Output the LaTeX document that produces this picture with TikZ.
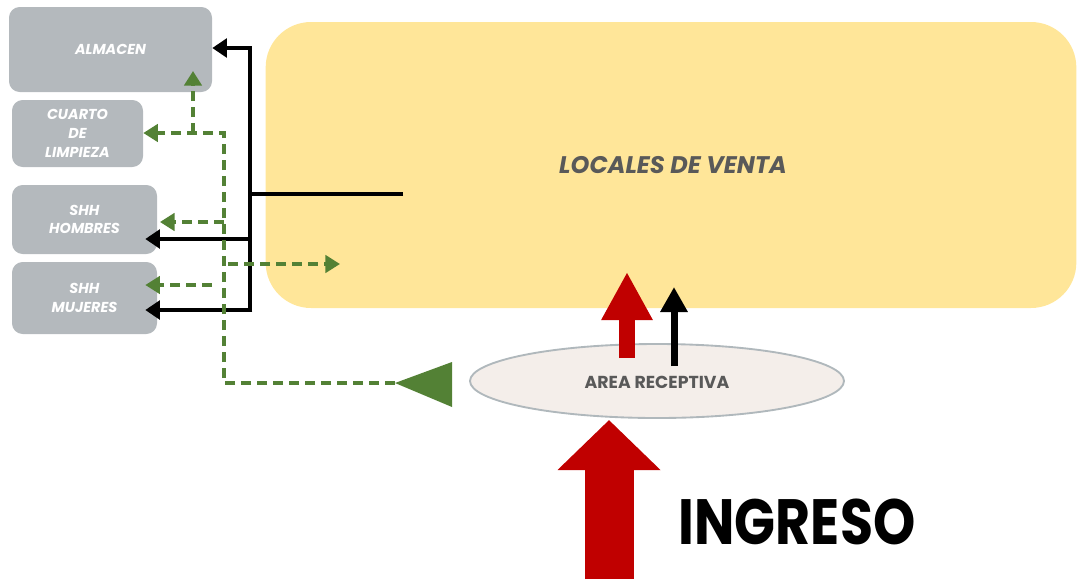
\documentclass[tikz,border=0pt]{standalone}
\usepackage{fontspec}
\setmainfont{Poppins}
\newfontfamily\ingfont[FakeStretch=0.84]{Poppins}
\usetikzlibrary{arrows.meta,shapes.geometric}
\definecolor{boxgray}{HTML}{B4B9BD}
\definecolor{locyellow}{HTML}{FFE699}
\definecolor{txtgray}{HTML}{595959}
\definecolor{gr}{HTML}{538135}
\definecolor{rd}{HTML}{C00000}
\definecolor{ellfill}{HTML}{F4EEEA}
\definecolor{elldraw}{HTML}{B0B8BC}
\tikzset{
  roombox/.style={fill=boxgray, rounded corners=8pt, draw=none, text=white,
    font=\bfseries\itshape\fontsize{10.8}{14}\selectfont, align=center, inner sep=0pt},
  blk/.style={line width=3.6pt, black},
  blkarrow/.style={blk, -{Triangle[length=11pt,width=14pt]}},
  gdash/.style={line width=2.9pt, gr, dash pattern=on 7.5pt off 4.5pt},
  garrow/.style={gdash, -{Triangle[length=11pt,width=13pt]}},
}
\begin{document}
\begin{tikzpicture}[x=0.75pt,y=-0.75pt]
\useasboundingbox (0,0) rectangle (1077,579);
% main area
\node[fill=locyellow, rounded corners=34pt, minimum width=608pt, minimum height=214.5pt, inner sep=0pt] (loc) at (671,165) {};
\node[text=txtgray, font=\bfseries\itshape\fontsize{18}{21}\selectfont] (loctxt) at (673,165) {LOCALES DE VENTA};
% rooms
\node[roombox, minimum width=152.25pt, minimum height=63.75pt] (alm) at (110.5,49.5) {ALMACEN};
\node[roombox, minimum width=98.25pt, minimum height=50.25pt] (cua) at (77.5,133.5) {CUARTO\\DE\\LIMPIEZA};
\node[roombox, minimum width=108.75pt, minimum height=51.75pt] (hom) at (84.5,219.5) {SHH\\HOMBRES};
\node[roombox, minimum width=108.75pt, minimum height=54pt] (muj) at (84.5,298) {SHH\\MUJERES};
% reception
\node[ellipse, fill=ellfill, draw=elldraw, line width=1.4pt, minimum width=280.5pt, minimum height=55.5pt,
  inner sep=0pt] (rec) at (657,381) {};
\node[text=txtgray, font=\bfseries\fontsize{13}{15}\selectfont] (rectxt) at (657,382) {AREA RECEPTIVA};
% coordinates
\coordinate (jt) at (250,48);
\coordinate (jm) at (250,194);
\coordinate (jh) at (250,239);
\coordinate (jb) at (250,310);
\coordinate (stub) at (403,194);
% black connectors
\draw[blk] (stub) -- (jm);
\draw[blkarrow] (jb) -- (jt) -- (alm.east |- jt);
\draw[blkarrow] (jh) -- ([xshift=-9pt]hom.east |- jh);
\draw[blkarrow] ([xshift=1.8pt]jb) -- ([xshift=-9pt]muj.east |- jb);
% green connectors
\coordinate (gtip) at (395,383);
\coordinate (gc) at (224,383);
\coordinate (gtop) at (224,133);
\coordinate (gbr) at (193,133);
\coordinate (gh) at (224,222);
\coordinate (gm) at (212,285);
\coordinate (gr1) at (228,264);
\coordinate (gr2) at (340,264);
\fill[gr] (gtip) -- (452,362) -- (452,407) -- cycle;
\draw[garrow] (gtip) -- (gc) -- (gtop) -- (cua.east |- gtop);
\draw[garrow] (gbr) -- (193,71);
\draw[garrow] (gh) -- ([xshift=2pt]hom.east |- gh);
\draw[garrow] (gm) -- ([xshift=-9pt]muj.east |- gm);
\draw[garrow] (gr1) -- (gr2);
% arrows into sales area
\coordinate (r1a) at (627,358);
\coordinate (r1b) at (627,272);
\coordinate (k1a) at (674,366);
\coordinate (k1b) at (674,287);
\coordinate (r2a) at (609,579);
\coordinate (r2b) at (609,420);
\draw[rd, line width=12pt, -{Triangle[length=36pt,width=36pt]}] (r1a) -- (r1b);
\draw[black, line width=5.25pt, -{Triangle[length=18.75pt,width=19.5pt]}] (k1a) -- (k1b);
\draw[rd, line width=36.75pt, -{Triangle[length=37.5pt,width=75pt]}] (r2a) -- (r2b);
\node[font=\ingfont\bfseries\fontsize{48}{50}\selectfont, inner sep=0pt] (ing) at (797,522) {INGRESO};
\end{tikzpicture}
\end{document}
